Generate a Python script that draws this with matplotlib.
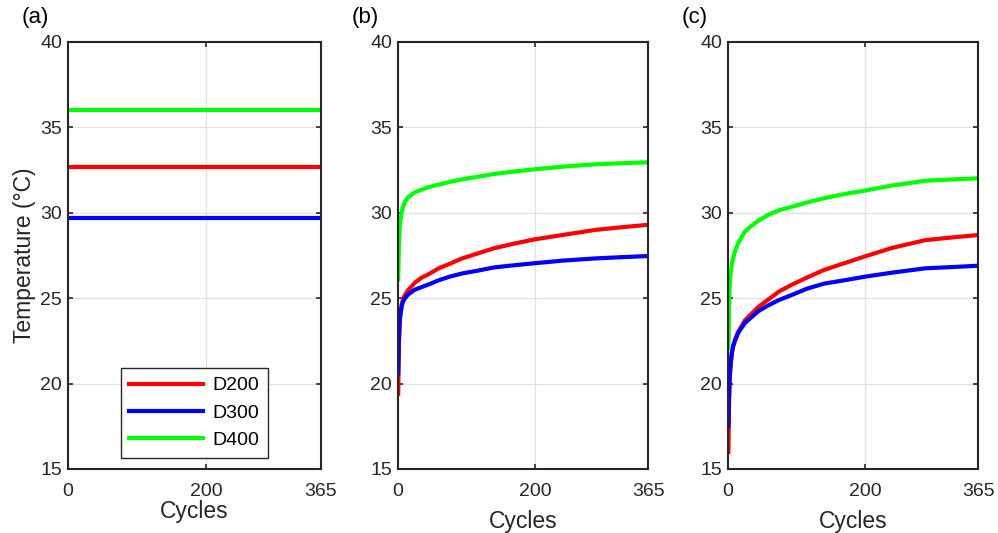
import numpy as np
import matplotlib.pyplot as plt

plt.rcParams['font.family'] = ['Liberation Sans', 'DejaVu Sans']

# series names and colours
names = ['D200', 'D300', 'D400']
colors = ['#ff0000', '#0000ff', '#00ff00']

# (a) constant temperatures
cycles_a = [1, 365]
temp_a = [32.7, 29.7, 36.0]

# (b) and (c)
cycles_bc = [1, 2, 3, 4, 6, 8, 11, 15, 25, 35, 45, 60, 75, 94, 115, 140, 170, 200, 240, 288, 325, 365]

red_b = [19.4, 22.3, 23.4, 24.0, 24.6, 24.95, 25.2, 25.45, 25.9, 26.2, 26.4, 26.75, 27.0, 27.33, 27.6, 27.92,
         28.2, 28.45, 28.7, 29.0, 29.15, 29.3]
blue_b = [20.6, 22.5, 23.5, 24.0, 24.5, 24.8, 25.0, 25.2, 25.5, 25.65, 25.8, 26.05, 26.25, 26.45, 26.6, 26.8,
          26.93, 27.05, 27.2, 27.33, 27.4, 27.47]
green_b = [26.1, 28.0, 29.0, 29.5, 30.0, 30.35, 30.65, 30.9, 31.2, 31.35, 31.5, 31.65, 31.8, 31.96, 32.1, 32.27,
           32.42, 32.55, 32.7, 32.84, 32.9, 32.96]

red_c = [16.0, 19.0, 20.3, 21.0, 21.8, 22.2, 22.6, 23.0, 23.7, 24.1, 24.5, 24.95, 25.4, 25.8, 26.2, 26.65,
         27.05, 27.45, 27.95, 28.4, 28.55, 28.7]
blue_c = [17.5, 19.3, 20.4, 21.0, 21.8, 22.2, 22.55, 22.95, 23.55, 23.9, 24.25, 24.6, 24.9, 25.2, 25.55, 25.85,
          26.05, 26.26, 26.5, 26.75, 26.82, 26.9]
green_c = [22.1, 24.5, 25.8, 26.4, 27.0, 27.35, 27.8, 28.2, 28.9, 29.25, 29.55, 29.9, 30.15, 30.36, 30.6, 30.85,
           31.1, 31.3, 31.6, 31.88, 31.95, 32.02]

xticks = [0, 200, 365]
yticks = [15, 20, 25, 30, 35, 40]
panel_tags = ['(a)', '(b)', '(c)']

W, H = 998, 533
fig = plt.figure(figsize=(W / 100, H / 100), dpi=100)

# axes boxes in pixels: left, right, top, bottom
boxes = [(67.7, 321, 42, 469), (397.5, 648.5, 42, 469), (727.7, 978.3, 42, 469)]
axes = []
for (l, r, t, b) in boxes:
    ax = fig.add_axes([l / W, (H - b) / H, (r - l) / W, (b - t) / H])
    axes.append(ax)

dark = '#262626'
for i, ax in enumerate(axes):
    ax.set_xlim(0, 365)
    ax.set_ylim(15, 40)
    ax.set_xticks(xticks)
    ax.set_yticks(yticks)
    ax.grid(True, color='#e0e0e0', lw=0.9)
    ax.set_axisbelow(True)
    ax.tick_params(direction='in', top=True, right=True, length=3.5, width=1.2,
                   colors=dark, labelsize=14, labelcolor=dark)
    ax.tick_params(axis='x', pad=10)
    ax.tick_params(axis='y', pad=4)
    for s in ax.spines.values():
        s.set_linewidth(1.5)
        s.set_color(dark)
    ax.set_xlabel('Cycles', fontsize=16.5, color=dark, labelpad=0 if i == 0 else 7)
    l, r, t, b = boxes[i]
    fig.text((l - 46) / W, 1 - 18 / H, panel_tags[i], fontsize=16, color='black',
             ha='left', va='center')

# (a)
for name, c, v in zip(names, colors, temp_a):
    axes[0].plot(cycles_a, [v] * len(cycles_a), color=c, lw=3, label=name)
axes[0].set_ylabel('Temperature (°C)', fontsize=16.5, color=dark, labelpad=3)
leg = axes[0].legend(loc='lower left', bbox_to_anchor=(0.209, 0.026), borderaxespad=0,
                     fontsize=14, handlelength=3.8, labelspacing=0.5, borderpad=0.45,
                     handletextpad=0.45, fancybox=False, framealpha=1, edgecolor=dark)
leg.get_frame().set_linewidth(1.0)

# (b)
for ys, c in zip([red_b, blue_b, green_b], colors):
    axes[1].plot(cycles_bc, ys, color=c, lw=3)

# (c)
for ys, c in zip([red_c, blue_c, green_c], colors):
    axes[2].plot(cycles_bc, ys, color=c, lw=3)

fig.savefig('out.png', dpi=100)
